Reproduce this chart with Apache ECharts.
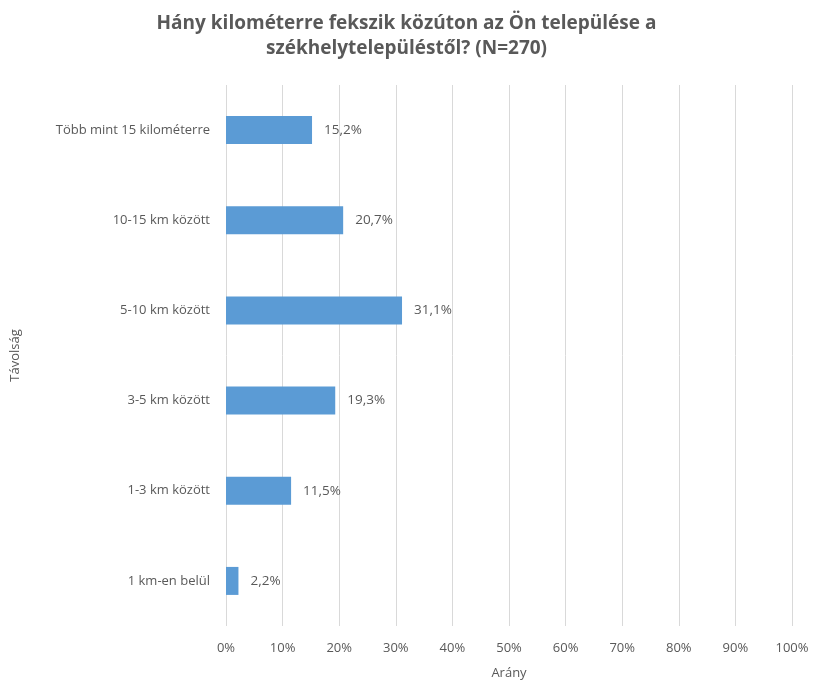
<!DOCTYPE html>
<html>
<head>
<meta charset="utf-8">
<script src="https://cdn.jsdelivr.net/npm/echarts@6/dist/echarts.min.js"></script>
<style>
  html, body { margin: 0; padding: 0; background: #fff; }
  #grafico { width: 813px; height: 685px; }
</style>
</head>
<body>
<div id="grafico"></div>
<script>
// datos (de abajo hacia arriba)
var categorias = ['1 km-en belül', '1-3 km között', '3-5 km között', '5-10 km között', '10-15 km között', 'Több mint 15 kilométerre'];
var valores = [2.2, 11.5, 19.3, 31.1, 20.7, 15.2];
var titulo = 'Hány kilométerre fekszik közúton az Ön települése a\nszékhelytelepüléstől? (N=270)';

var FUENTE = '"Open Sans", "Liberation Sans", sans-serif';
var GRIS = '#595959';

var chart = echarts.init(document.getElementById('grafico'));
chart.setOption({
    animation: false,
    textStyle: { fontFamily: FUENTE },
    title: {
        text: titulo,
        left: 'center',
        top: 6,
        textStyle: {
            fontFamily: FUENTE,
            fontSize: 19,
            fontWeight: 'bold',
            color: GRIS,
            lineHeight: 25
        }
    },
    grid: { left: 226, right: 21, top: 85, bottom: 59 },
    xAxis: {
        type: 'value',
        min: 0,
        max: 100,
        interval: 10,
        name: 'Arány',
        nameLocation: 'middle',
        nameGap: 41,
        nameTextStyle: { color: GRIS, fontSize: 13, fontFamily: FUENTE },
        axisLine: { show: false },
        axisTick: { show: false },
        axisLabel: {
            color: GRIS,
            fontSize: 13,
            margin: 16,
            formatter: function (v) { return v + '%'; }
        },
        splitLine: { show: true, lineStyle: { color: '#d9d9d9', width: 1 } }
    },
    yAxis: {
        type: 'category',
        data: categorias,
        name: 'Távolság',
        nameLocation: 'middle',
        nameGap: 204,
        nameRotate: 90,
        nameTextStyle: { color: GRIS, fontSize: 13, fontFamily: FUENTE },
        axisLine: { show: false },
        axisTick: { show: false },
        axisLabel: { color: GRIS, fontSize: 13, margin: 16 }
    },
    series: [{
        type: 'bar',
        data: valores,
        barWidth: 28,
        itemStyle: { color: '#5b9bd5' },
        label: {
            show: true,
            position: 'right',
            distance: 12,
            color: GRIS,
            fontSize: 13.5,
            formatter: function (p) { return p.value.toFixed(1).replace('.', ',') + '%'; }
        }
    }]
});
</script>
</body>
</html>
